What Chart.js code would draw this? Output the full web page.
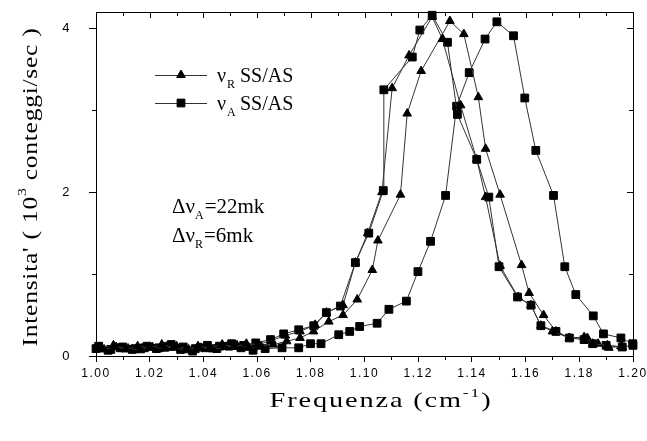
<!DOCTYPE html>
<html>
<head>
<meta charset="utf-8">
<script src="https://cdn.jsdelivr.net/npm/chart.js@4.4.1/dist/chart.umd.min.js"></script>
<style>
html,body{margin:0;padding:0;background:#fff;}
#wrap{width:647px;height:441px;position:relative;}
</style>
</head>
<body>
<div id="wrap"><canvas id="c" width="647" height="441"></canvas></div>
<script>
// ---- data ----
const xTicks = [1.00,1.02,1.04,1.06,1.08,1.10,1.12,1.14,1.16,1.18,1.20];
const yTicks = [0,2,4];

// triangles, curve peaking near 1.125
const triAx = [1.002,1.0065,1.011,1.0155,1.020,1.0245,1.029,1.0335,1.038,1.0425,1.047,1.0515,1.056,1.0605,1.0655,1.0705,1.0760,1.0816,1.0858,1.0920,1.0966,1.1012,1.1065,1.1103,1.1166,1.1252,1.1290,1.1358,1.1418,1.1451,1.1505,1.1572,1.1620,1.1657,1.1700,1.1763,1.1818,1.1850,1.1905,1.1960];
const triAy = [0.10,0.13,0.08,0.12,0.10,0.14,0.10,0.07,0.12,0.10,0.14,0.11,0.15,0.14,0.19,0.25,0.30,0.38,0.53,0.62,1.14,1.50,2.00,3.27,3.67,4.14,3.87,3.06,2.40,1.94,1.10,0.72,0.62,0.37,0.30,0.22,0.23,0.15,0.13,0.11];

// triangles, curve peaking near 1.132
const triBx = [1.003,1.0075,1.012,1.0165,1.021,1.0255,1.030,1.0345,1.039,1.0435,1.048,1.0525,1.057,1.0615,1.066,1.0710,1.0760,1.0810,1.0867,1.0920,1.0973,1.1029,1.1050,1.1134,1.1159,1.1211,1.1318,1.1370,1.1424,1.1451,1.1505,1.1585,1.1613,1.1667,1.1713,1.1763,1.1830,1.1870,1.1910,1.1955];
const triBy = [0.08,0.11,0.09,0.07,0.11,0.09,0.12,0.08,0.10,0.08,0.11,0.13,0.10,0.12,0.14,0.18,0.22,0.30,0.42,0.50,0.69,1.05,1.41,1.97,2.96,3.48,4.09,3.93,3.16,2.53,1.97,1.11,0.77,0.50,0.30,0.22,0.22,0.15,0.10,0.12];

// squares, curve peaking near 1.125
const sqAx = [1.001,1.0055,1.010,1.0145,1.019,1.0235,1.028,1.0325,1.037,1.0415,1.046,1.0505,1.055,1.0595,1.065,1.0699,1.0755,1.0811,1.0858,1.0910,1.0966,1.1016,1.1070,1.1072,1.1178,1.1206,1.1252,1.1309,1.1346,1.1418,1.1463,1.1501,1.1570,1.1620,1.1657,1.1713,1.1763,1.1818,1.1850,1.1900,1.1960,1.2000];
const sqAy = [0.12,0.08,0.11,0.09,0.12,0.10,0.14,0.11,0.09,0.13,0.12,0.15,0.13,0.16,0.20,0.27,0.32,0.37,0.53,0.61,1.14,1.50,2.02,3.25,3.65,3.98,4.16,3.83,2.95,2.40,1.94,1.09,0.72,0.62,0.37,0.30,0.22,0.20,0.15,0.13,0.11,0.13];

// squares, curve peaking near 1.149
const sqBx = [1.000,1.0045,1.009,1.0135,1.018,1.0225,1.027,1.0315,1.036,1.0405,1.045,1.0495,1.054,1.0585,1.063,1.0693,1.0755,1.0799,1.0838,1.0904,1.0945,1.0982,1.1047,1.1091,1.1156,1.1199,1.1246,1.1302,1.1343,1.1390,1.1449,1.1493,1.1555,1.1597,1.1638,1.1704,1.1746,1.1787,1.1852,1.1890,1.1955,1.1999];
const sqBy = [0.09,0.07,0.10,0.08,0.10,0.09,0.12,0.08,0.06,0.10,0.09,0.12,0.10,0.07,0.09,0.10,0.10,0.15,0.15,0.26,0.30,0.36,0.40,0.57,0.67,1.03,1.40,1.96,3.05,3.46,3.87,4.08,3.91,3.15,2.51,1.96,1.09,0.75,0.49,0.27,0.22,0.15];

const pts = (xs, ys) => xs.map((x, i) => ({x: x, y: ys[i]}));

const LINE = '#333';
function ds(label, xs, ys, style, r) {
  return {
    label: label, data: pts(xs, ys), showLine: true,
    borderColor: LINE, borderWidth: 1, backgroundColor: '#000',
    pointStyle: style, pointRadius: r, pointBorderColor: '#000', pointBorderWidth: 1,
    pointBackgroundColor: '#000', clip: false, tension: 0
  };
}

const serif = '"Liberation Serif", "Times New Roman", serif';
const sans = '"Liberation Sans", Arial, sans-serif';

// draws pieces [{t, size, dy}] centred, spreading them to a target width
function drawFitted(ctx, pieces, target, scale) {
  let nat = 0, n = 0;
  pieces.forEach(p => { ctx.font = p.size + 'px ' + serif; p.w = ctx.measureText(p.t).width; nat += p.w; n += p.t.length; });
  const ls = Math.max(0, (target / scale - nat) / n);
  let x = -(nat + n * ls) / 2;
  ctx.letterSpacing = ls.toFixed(2) + 'px';
  pieces.forEach(p => {
    ctx.font = p.size + 'px ' + serif;
    ctx.fillText(p.t, x, p.dy);
    x += p.w + p.t.length * ls;
  });
  ctx.letterSpacing = '0px';
}

const decor = {
  id: 'decor',
  beforeDraw(chart) {
    chart.ctx.letterSpacing = '1.5px';
  },
  afterDraw(chart) {
    const ctx = chart.ctx;
    const a = chart.chartArea;
    const xs = chart.scales.x, ys = chart.scales.y;
    ctx.save();
    ctx.letterSpacing = '0px';
    ctx.strokeStyle = '#000';
    ctx.lineWidth = 1;
    // frame
    ctx.beginPath();
    ctx.moveTo(a.left + 0.5, a.top + 0.5); ctx.lineTo(a.right + 0.5, a.top + 0.5);
    ctx.lineTo(a.right + 0.5, a.bottom + 0.5);
    ctx.stroke();
    // minor / mirrored ticks
    ctx.beginPath();
    for (let k = 0; k <= 20; k++) {
      const v = 1 + k * 0.01;
      const px = Math.round(xs.getPixelForValue(v)) + 0.5;
      const major = k % 2 === 0;
      if (!major) { ctx.moveTo(px, a.bottom); ctx.lineTo(px, a.bottom + 4); }
      ctx.moveTo(px, a.top); ctx.lineTo(px, a.top + (major ? 6 : 4));
    }
    for (let v = 0; v <= 4; v++) {
      const py = Math.round(ys.getPixelForValue(v)) + 0.5;
      const major = v % 2 === 0;
      if (!major) { ctx.moveTo(a.left, py); ctx.lineTo(a.left - 4, py); }
      ctx.moveTo(a.right, py); ctx.lineTo(a.right - (major ? 6 : 4), py);
    }
    ctx.stroke();

    ctx.fillStyle = '#000';
    ctx.textBaseline = 'alphabetic'; ctx.textAlign = 'left';

    // legend
    const legendRows = [
      {style: 'triangle', r: 5, y: 75, sub: 'R'},
      {style: 'rect', r: 5.5, y: 103, sub: 'A'}
    ];
    legendRows.forEach(row => {
      ctx.strokeStyle = LINE; ctx.lineWidth = 1;
      ctx.beginPath(); ctx.moveTo(155, row.y + 0.5); ctx.lineTo(207, row.y + 0.5); ctx.stroke();
      ctx.fillStyle = '#000'; ctx.strokeStyle = '#000';
      Chart.helpers.drawPoint(ctx, {pointStyle: row.style, radius: row.r, rotation: 0, borderWidth: 1}, 181, row.y);
      ctx.fillStyle = '#000';
      ctx.font = '20px ' + serif;
      ctx.fillText('\u03BD', 217, row.y + 7);
      ctx.font = '12px ' + serif;
      ctx.fillText(row.sub, 227, row.y + 13);
      ctx.font = '20px ' + serif;
      ctx.fillText('SS/AS', 240, row.y + 7);
    });

    // annotations
    const notes = [{sub: 'A', txt: '=22mk', y: 213}, {sub: 'R', txt: '=6mk', y: 242}];
    notes.forEach(n => {
      ctx.font = '21px ' + serif;
      ctx.fillText('\u0394\u03BD', 172, n.y);
      const wd = ctx.measureText('\u0394\u03BD').width;
      ctx.font = '12px ' + serif;
      ctx.fillText(n.sub, 172 + wd, n.y + 6);
      const ws = ctx.measureText(n.sub).width;
      ctx.font = '21px ' + serif;
      ctx.fillText(n.txt, 172 + wd + ws + 1, n.y);
    });

    // x title
    ctx.save();
    ctx.translate(381, 407);
    ctx.scale(1.35, 1);
    drawFitted(ctx, [
      {t: 'Frequenza (cm', size: 21, dy: 0},
      {t: '-1', size: 13, dy: -10},
      {t: ')', size: 21, dy: 0}
    ], 223, 1.35);
    ctx.restore();

    // y title
    ctx.save();
    ctx.translate(37, 187);
    ctx.rotate(-Math.PI / 2);
    ctx.scale(1.22, 1);
    drawFitted(ctx, [
      {t: "Intensita' ( 10", size: 21, dy: 0},
      {t: '3', size: 13, dy: -11},
      {t: ' conteggi/sec )', size: 21, dy: 0}
    ], 319, 1.22);
    ctx.restore();

    ctx.restore();
  }
};

new Chart(document.getElementById('c'), {
  type: 'scatter',
  data: {
    datasets: [
      ds('\u03BDR SS/AS', triAx, triAy, 'triangle', 5),
      ds('\u03BDR SS/AS', triBx, triBy, 'triangle', 5),
      ds('\u03BDA SS/AS', sqAx, sqAy, 'rect', 5.5),
      ds('\u03BDA SS/AS', sqBx, sqBy, 'rect', 5.5)
    ]
  },
  options: {
    responsive: false,
    animation: false,
    devicePixelRatio: 1,
    layout: {padding: {left: 0, top: 12, right: 14, bottom: 0}},
    plugins: {legend: {display: false}, tooltip: {enabled: false}},
    scales: {
      x: {
        type: 'linear', min: 1.0, max: 1.2,
        afterBuildTicks: s => { s.ticks = xTicks.map(v => ({value: v})); },
        afterFit: s => { s.height = 85; s.paddingLeft = 0; s.paddingRight = 0; },
        grid: {drawOnChartArea: false, drawTicks: true, tickLength: 6, color: '#000'},
        border: {display: true, color: '#000', width: 1},
        ticks: {
          includeBounds: false, autoSkip: false, maxRotation: 0, padding: 4,
          color: '#000', font: {family: sans, size: 12},
          callback: v => Number(v).toFixed(2)
        }
      },
      y: {
        type: 'linear', min: 0, max: 4.2,
        afterBuildTicks: s => { s.ticks = yTicks.map(v => ({value: v})); },
        afterFit: s => { s.width = 96; s.paddingTop = 0; s.paddingBottom = 0; },
        grid: {drawOnChartArea: false, drawTicks: true, tickLength: 7, color: '#000'},
        border: {display: true, color: '#000', width: 1},
        ticks: {
          includeBounds: false, padding: 18,
          color: '#000', font: {family: sans, size: 13},
          callback: v => String(v)
        }
      }
    }
  },
  plugins: [decor]
});
</script>
</body>
</html>
